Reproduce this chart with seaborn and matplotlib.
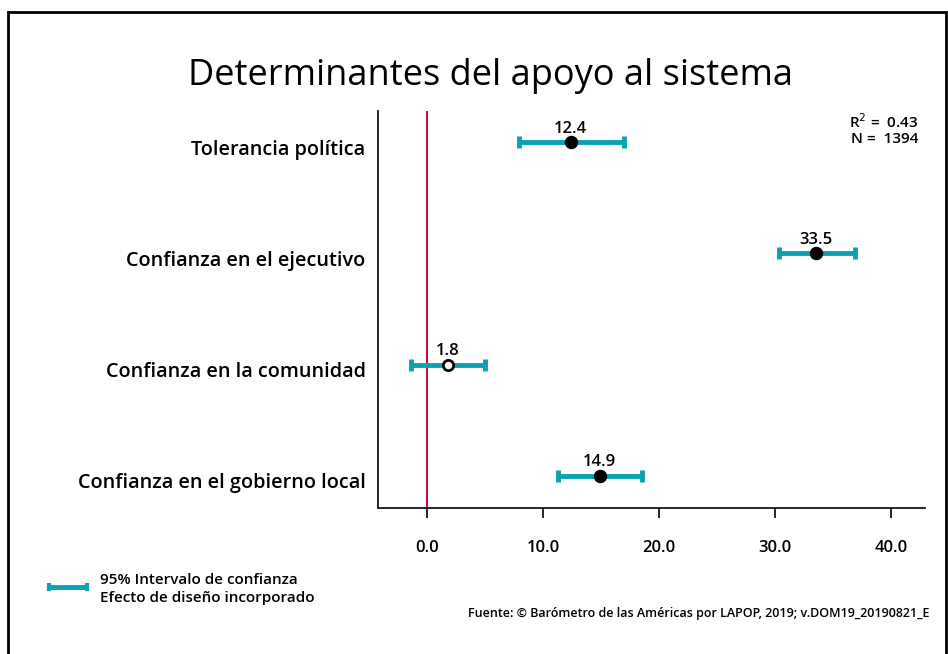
import matplotlib.pyplot as plt
import matplotlib.transforms as mtransforms
import seaborn as sns
import numpy as np
import pandas as pd

sns.set_style("white")
plt.rcParams['font.family'] = ['Open Sans', 'DejaVu Sans']
plt.rcParams['text.color'] = 'black'
plt.rcParams['xtick.color'] = 'black'
plt.rcParams['ytick.color'] = 'black'

# Datos
variables = ["Tolerancia política", "Confianza en el ejecutivo",
             "Confianza en la comunidad", "Confianza en el gobierno local"]
coeficientes = [12.4, 33.5, 1.8, 14.9]
ic_inferior = [7.9, 30.3, -1.4, 11.3]
ic_superior = [17.0, 36.9, 5.0, 18.5]
significativo = [True, True, False, True]
xticks = [0, 10, 20, 30, 40]
r2 = 0.43
n_obs = 1394

df = pd.DataFrame({"variable": variables, "coef": coeficientes,
                   "lo": ic_inferior, "hi": ic_superior, "sig": significativo})
df["pos"] = np.arange(len(df))

teal = "#0AA1B1"
rojo = "#C8103C"

fig = plt.figure(figsize=(9.48, 6.54), dpi=100)
ax = fig.add_axes([378 / 948, 1 - 508 / 654, (925 - 378) / 948, (508 - 111) / 654])

# línea de referencia en cero
ax.axvline(0, color=rojo, lw=1.5, zorder=1)

# intervalos de confianza
err = [df["coef"] - df["lo"], df["hi"] - df["coef"]]
ax.errorbar(df["coef"], df["pos"], xerr=err, fmt="none", ecolor=teal,
            elinewidth=3.5, capsize=4, capthick=3.5, zorder=2)

# puntos
sns.scatterplot(data=df[df["sig"]], x="coef", y="pos", color="black", s=75,
                edgecolor="black", linewidth=1, zorder=3, ax=ax, legend=False)
sns.scatterplot(data=df[~df["sig"]], x="coef", y="pos", color="white", s=55,
                edgecolor="black", linewidth=2, zorder=3, ax=ax, legend=False)

for c, p in zip(df["coef"], df["pos"]):
    ax.annotate(f"{c:.1f}", (c, p), xytext=(0, 4), textcoords="offset points",
                ha="center", va="bottom", fontsize=12, fontweight="semibold")

ax.set_xlim(-4.2, 42.9)
ax.set_ylim(3.29, -0.28)
ax.set_xticks(xticks)
ax.set_xticklabels([f"{t:.1f}" for t in xticks], fontsize=12, fontweight="semibold")
ax.set_yticks(df["pos"])
ax.set_yticklabels(df["variable"], fontsize=14.3, fontweight="semibold")
ax.tick_params(axis="x", direction="out", length=7, width=1.2, pad=16, bottom=True)
ax.tick_params(axis="y", length=0, pad=9)
offset = mtransforms.ScaledTranslation(0, -5 / 100, fig.dpi_scale_trans)
for lab in ax.get_yticklabels():
    lab.set_transform(lab.get_transform() + offset)
ax.set_xlabel("")
ax.set_ylabel("")
sns.despine(ax=ax, top=True, right=True)
for s in ["left", "bottom"]:
    ax.spines[s].set_color("black")
    ax.spines[s].set_linewidth(1.2)

# título
fig.text(490 / 948, 1 - 76 / 654, "Determinantes del apoyo al sistema",
         ha="center", va="center", fontsize=26, fontweight="medium")

# estadísticas
fig.text(918 / 948, 1 - 122 / 654, f"R$^2$ =  {r2:.2f}", ha="right", va="center",
         fontsize=11, fontweight="semibold")
fig.text(918 / 948, 1 - 139 / 654, f"N =  {n_obs}", ha="right", va="center",
         fontsize=11, fontweight="semibold")

# leyenda
fig.add_artist(plt.Line2D([48 / 948, 88 / 948], [1 - 587 / 654, 1 - 587 / 654],
                          color=teal, lw=3.5, solid_capstyle="butt"))
fig.add_artist(plt.Line2D([49 / 948, 87 / 948], [1 - 587 / 654, 1 - 587 / 654],
                          color=teal, lw=0, marker="|", markersize=6, mew=3,
                          markevery=[0, 1]))
fig.text(100 / 948, 1 - 580 / 654, "95% Intervalo de confianza", ha="left",
         va="center", fontsize=11, fontweight="semibold")
fig.text(100 / 948, 1 - 598 / 654, "Efecto de diseño incorporado", ha="left",
         va="center", fontsize=11, fontweight="semibold")

# fuente
fig.text(930 / 948, 1 - 614 / 654,
         "Fuente: © Barómetro de las Américas por LAPOP, 2019; v.DOM19_20190821_E",
         ha="right", va="center", fontsize=9, fontweight="semibold")

# marco
fig.add_artist(plt.Rectangle((8 / 948, -0.01), (946 - 8) / 948, 1 - 12 / 654 + 0.01,
                             fill=False, edgecolor="black", lw=2,
                             transform=fig.transFigure))

fig.savefig("out.png", dpi=100)
